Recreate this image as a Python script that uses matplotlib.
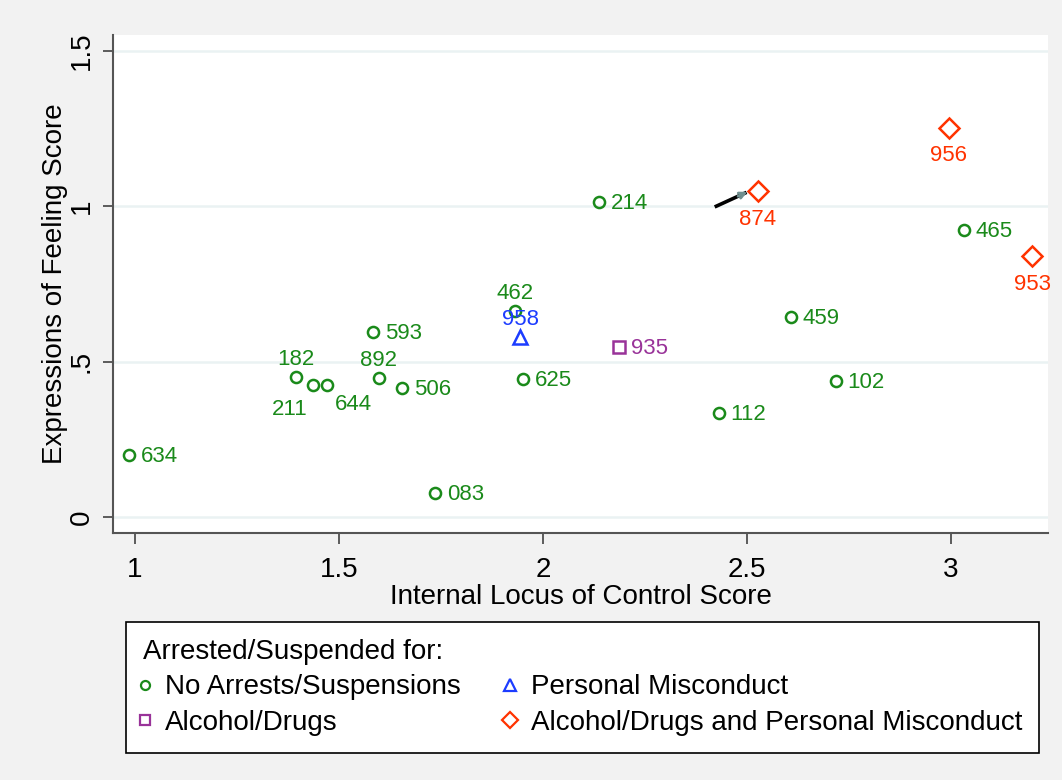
import matplotlib
matplotlib.use("Agg")
import matplotlib.pyplot as plt
from matplotlib.lines import Line2D

plt.rcParams['font.family'] = ['Liberation Sans', 'DejaVu Sans']

# group data: (x, y, id, label clock position)
no_arrest_x = [0.985, 1.735, 1.395, 1.436, 1.471, 1.598, 1.654, 1.583, 1.931,
               1.951, 2.137, 2.431, 2.608, 2.718, 3.032]
no_arrest_y = [0.199, 0.077, 0.450, 0.424, 0.424, 0.447, 0.415, 0.595, 0.662,
               0.444, 1.013, 0.334, 0.643, 0.437, 0.923]
no_arrest_id = ["634", "083", "182", "211", "644", "892", "506", "593", "462",
                "625", "214", "112", "459", "102", "465"]
no_arrest_pos = ["3", "3", "12", "7", "5", "12", "3", "3", "12",
                 "3", "3", "3", "3", "3", "3"]

personal_x = [1.944]
personal_y = [0.579]
personal_id = ["958"]
personal_pos = ["12"]

drugs_x = [2.186]
drugs_y = [0.547]
drugs_id = ["935"]
drugs_pos = ["3"]

both_x = [2.527, 2.995, 3.199]
both_y = [1.048, 1.251, 0.839]
both_id = ["874", "956", "953"]
both_pos = ["6", "6", "6"]

arrow_start = (2.425, 1.000)
arrow_end = (2.507, 1.050)

GREEN = "#1a8a1a"
BLUE = "#1c3cff"
PURPLE = "#993399"
RED = "#ff3300"

# clock position -> (dx, dy in points, ha)
offsets = {
    "3": (8.5, -1.0, "left"),
    "12": (0, 13.0, "center"),
    "6": (0, -20.0, "center"),
    "7": (-17, -17.5, "center"),
    "5": (19, -14.0, "center"),
}

fig = plt.figure(figsize=(10.62, 7.8), dpi=100, facecolor="#f2f2f2")
ax = fig.add_axes([113 / 1062, 1 - 533 / 780, (1048 - 113) / 1062, (533 - 35) / 780])
ax.set_facecolor("white")

groups = [
    (no_arrest_x, no_arrest_y, no_arrest_id, no_arrest_pos, GREEN, "o", 8),
    (personal_x, personal_y, personal_id, personal_pos, BLUE, "^", 10),
    (drugs_x, drugs_y, drugs_id, drugs_pos, PURPLE, "s", 8.5),
    (both_x, both_y, both_id, both_pos, RED, "D", 10.5),
]

for xs, ys, ids, pos, col, mk, ms in groups:
    ax.plot(xs, ys, linestyle="none", marker=mk, markersize=ms,
            markerfacecolor="none", markeredgecolor=col, markeredgewidth=1.8, zorder=3)
    for x, y, t, p in zip(xs, ys, ids, pos):
        dx, dy, ha = offsets[p]
        ax.annotate(t, (x, y), xytext=(dx, dy), textcoords="offset points",
                    ha=ha, va="center", color=col, fontsize=16, zorder=4)

# arrow pointing at case 874
ax.plot([arrow_start[0], arrow_end[0] - 0.012], [arrow_start[1], arrow_end[1] - 0.008],
        color="black", lw=2.6, zorder=4)
ax.annotate("", xy=arrow_end, xytext=(arrow_end[0] - 0.035, arrow_end[1] - 0.022),
            arrowprops=dict(arrowstyle="->", color="#6f8f8f", lw=2.0), zorder=4)

ax.set_xlim(0.946, 3.238)
ax.set_ylim(-0.05, 1.55)
ax.set_xticks([1, 1.5, 2, 2.5, 3])
ax.set_xticklabels(["1", "1.5", "2", "2.5", "3"])
ax.set_yticks([0, 0.5, 1, 1.5])
ax.set_yticklabels(["0", ".5", "1", "1.5"], rotation=90, va="center")
ax.grid(axis="y", color="#eaf2f3", lw=1.8, zorder=0)
ax.set_axisbelow(True)

for s in ["top", "right"]:
    ax.spines[s].set_visible(False)
for s in ["left", "bottom"]:
    ax.spines[s].set_color("#555555")
    ax.spines[s].set_linewidth(1.5)
ax.tick_params(axis="x", length=8, width=1.1, color="#333333", labelsize=20, pad=9)
ax.tick_params(axis="y", length=7, width=1.1, color="#333333", labelsize=20, pad=6)

ax.set_xlabel("Internal Locus of Control Score", fontsize=20, labelpad=1)
ax.set_ylabel("Expressions of Feeling Score", fontsize=20, labelpad=1)

handles = [
    Line2D([], [], linestyle="none", marker="o", markersize=6.5, markerfacecolor="none",
           markeredgecolor=GREEN, markeredgewidth=1.6),
    Line2D([], [], linestyle="none", marker="s", markersize=7, markerfacecolor="none",
           markeredgecolor=PURPLE, markeredgewidth=1.6),
    Line2D([], [], linestyle="none", marker="^", markersize=8.5, markerfacecolor="none",
           markeredgecolor=BLUE, markeredgewidth=1.6),
    Line2D([], [], linestyle="none", marker="D", markersize=8.5, markerfacecolor="none",
           markeredgecolor=RED, markeredgewidth=1.6),
]
labels = ["No Arrests/Suspensions", "Alcohol/Drugs", "Personal Misconduct",
          "Alcohol/Drugs and Personal Misconduct"]
leg = fig.legend(handles, labels, ncol=2, title="Arrested/Suspended for:",
                 loc="upper left",
                 bbox_to_anchor=(126 / 1062, 1 - 622 / 780),
                 fontsize=20, title_fontsize=20, frameon=True, fancybox=False,
                 edgecolor="black", framealpha=1, handlelength=0.15, handletextpad=0.65,
                 columnspacing=1.72, labelspacing=0.35, borderpad=0.6, borderaxespad=0)
leg._legend_box.align = "left"
leg.get_frame().set_linewidth(1.2)

fig.savefig("out.png", dpi=100, facecolor=fig.get_facecolor())
